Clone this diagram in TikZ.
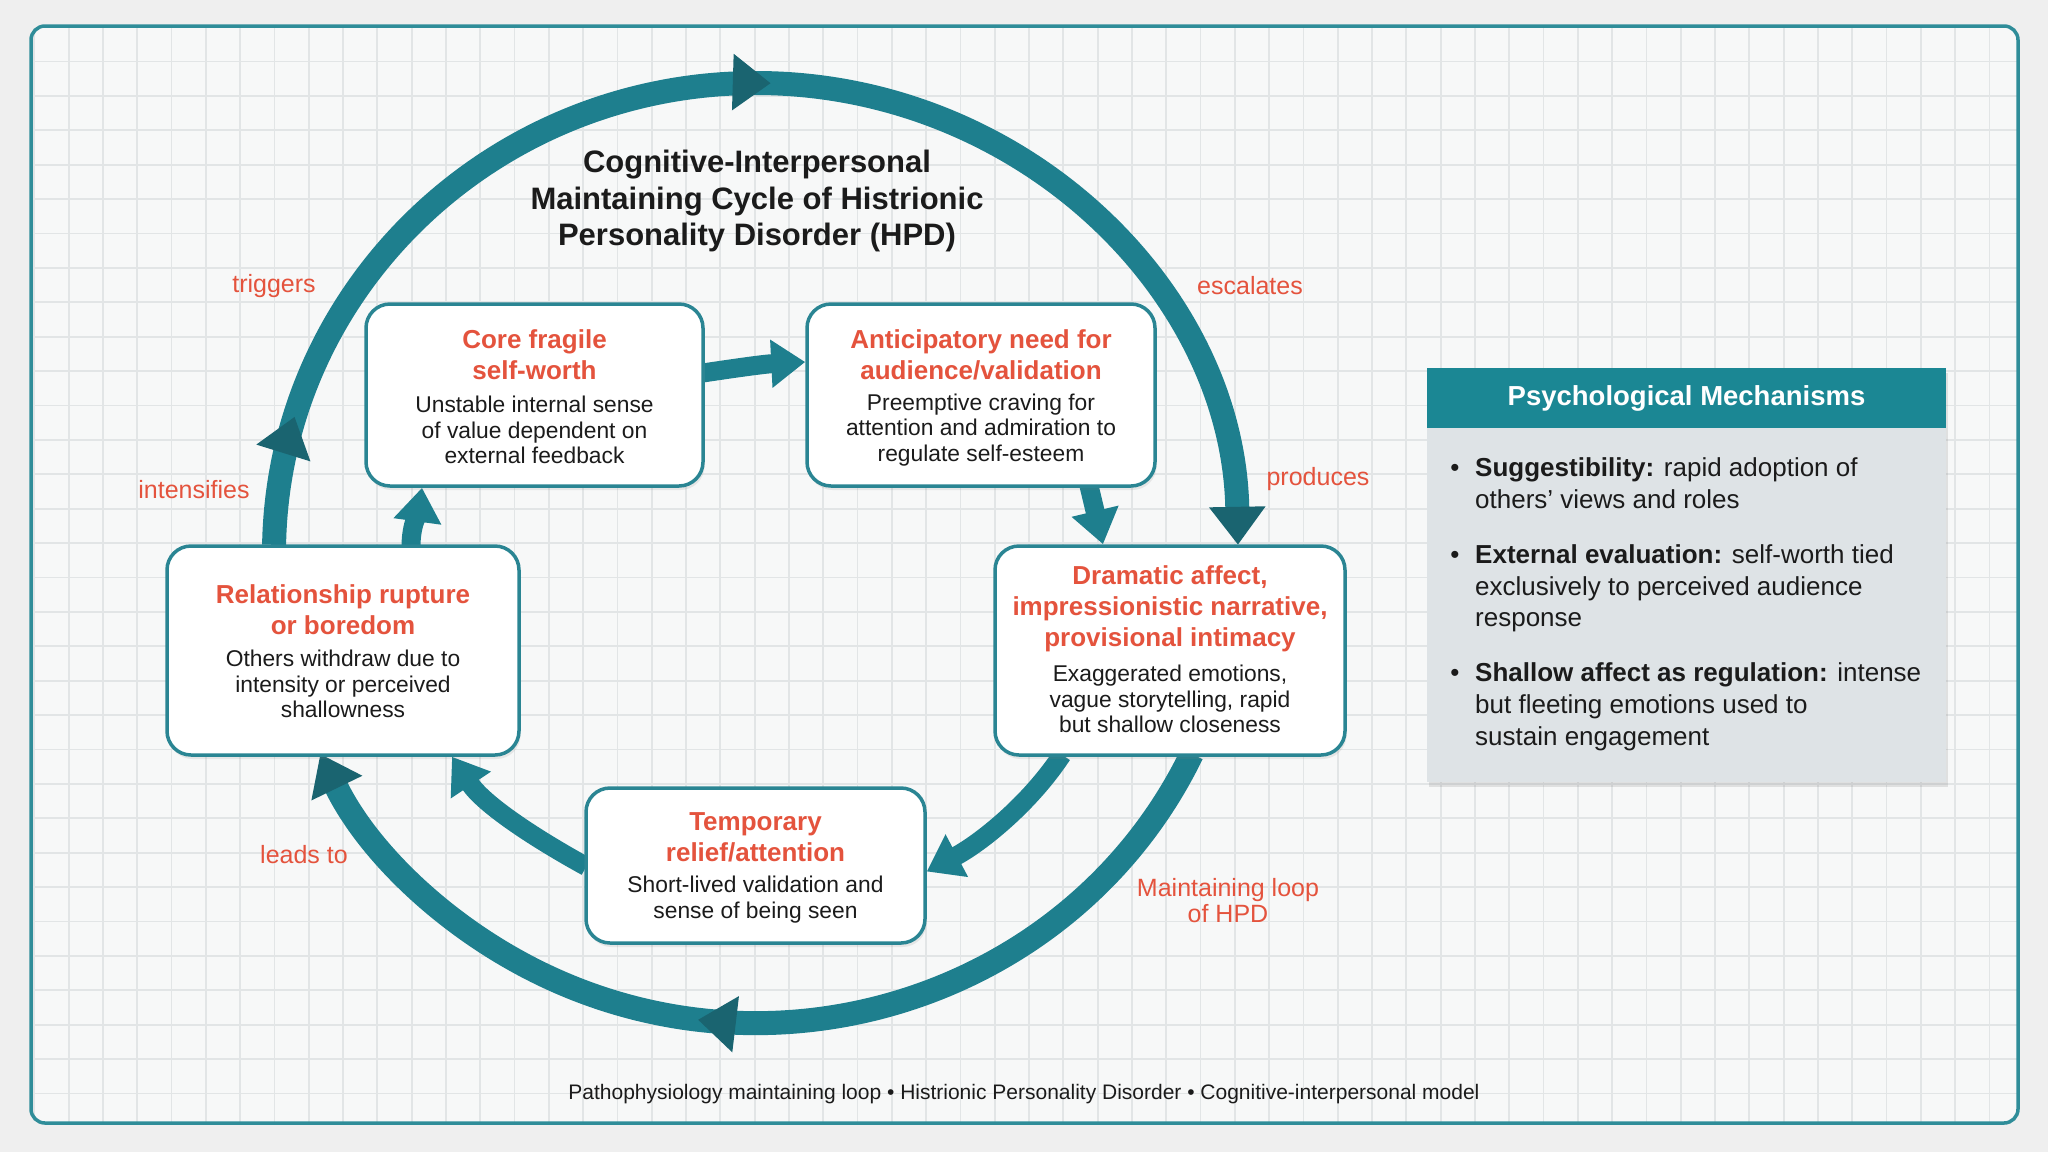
\documentclass[tikz,border=0pt]{standalone}
\usepackage{fontspec}
\setmainfont{Liberation Sans}
\usetikzlibrary{arrows.meta,decorations.markings,shadows,calc}
\pgfdeclarelayer{back}
\pgfdeclarelayer{links}
\pgfsetlayers{back,links,main}
\definecolor{bgout}{HTML}{EFEFEF}
\definecolor{bgin}{HTML}{F7F8F8}
\definecolor{gridc}{HTML}{E2E5E6}
\definecolor{tealA}{HTML}{1E7F8E}
\definecolor{tealB}{HTML}{1A6470}
\definecolor{boxline}{HTML}{2A8593}
\definecolor{frameline}{HTML}{2F8D99}
\definecolor{hred}{HTML}{E4533D}
\definecolor{txt}{HTML}{1B1B1B}
\definecolor{hdr}{HTML}{1B8794}
\definecolor{pbody}{HTML}{DEE3E6}
\begin{document}
\begin{tikzpicture}[x=1pt,y=-1pt,
  stage/.style={draw=boxline, line width=3.5pt, fill=white, rounded corners=24pt,
    inner sep=0pt,
    drop shadow={opacity=0.15, shadow xshift=1.5pt, shadow yshift=-4pt}},
  ttl/.style={text=hred, font=\fontsize{26}{31}\selectfont\bfseries, align=center, inner sep=0pt},
  bdy/.style={text=txt, font=\fontsize{22.8}{25.5}\selectfont, align=center, inner sep=0pt},
  outer/.style={draw=tealA, line width=24pt},
  inner/.style={draw=tealA, line width=19pt, -{Triangle[length=34pt,width=46pt]}},
  endtip/.style={-{Triangle[length=38pt,width=54pt,color=tealB]}},
  lbl/.style={text=hred, font=\fontsize{25}{26}\selectfont, align=center, inner sep=0pt},
  ptxt/.style={text=txt, font=\fontsize{26}{32}\selectfont, anchor=base west, inner sep=0pt},
]
\useasboundingbox (0,0) rectangle (2048,1152);

% boxes
\node[stage, minimum width=337pt, minimum height=182pt] (Core) at (534.5,395) {};
\node[stage, minimum width=348pt, minimum height=182pt] (Ant) at (981,395) {};
\node[stage, minimum width=352pt, minimum height=209pt] (Rel) at (343,650.5) {};
\node[stage, minimum width=350pt, minimum height=209pt] (Dram) at (1170,650.5) {};
\node[stage, minimum width=339pt, minimum height=155pt] (Temp) at (755.5,865.5) {};

% box texts
\node[ttl] (CoreT) at ($(Core)+(0,-40)$) {Core fragile\\self-worth};
\node[bdy] (CoreB) at ($(Core)+(0,35)$) {Unstable internal sense\\of value dependent on\\external feedback};
\node[ttl] (AntT) at ($(Ant)+(0,-40)$) {Anticipatory need for\\audience/validation};
\node[bdy] (AntB) at ($(Ant)+(0,35)$) {Preemptive craving for\\attention and admiration to\\regulate self-esteem};
\node[ttl] (RelT) at ($(Rel)+(0,-40.5)$) {Relationship rupture\\or boredom};
\node[bdy] (RelB) at ($(Rel)+(0,33.5)$) {Others withdraw due to\\intensity or perceived\\shallowness};
\node[ttl] (DramT) at ($(Dram)+(0,-42)$) {Dramatic affect,\\impressionistic narrative,\\provisional intimacy};
\node[bdy] (DramB) at ($(Dram)+(0,48.5)$) {Exaggerated emotions,\\vague storytelling, rapid\\but shallow closeness};
\node[ttl] (TempT) at ($(Temp)+(0,-28)$) {Temporary\\relief/attention};
\node[bdy] (TempB) at ($(Temp)+(0,34)$) {Short-lived validation and\\sense of being seen};

% frame and grid
\begin{pgfonlayer}{back}
\fill[bgout] (0,0) rectangle (2048,1152);
\fill[bgin, rounded corners=14pt] (31,26) rectangle (2018,1123);
\begin{scope}
  \clip[rounded corners=14pt] (31,26) rectangle (2018,1123);
  \foreach \i in {1,...,58} \draw[gridc, line width=1.8pt] (34.3*\i,26) -- (34.3*\i,1123);
  \foreach \j in {0,...,32} \draw[gridc, line width=1.8pt] (31,27+34.4*\j) -- (2018,27+34.4*\j);
\end{scope}
\draw[frameline, line width=3.5pt, rounded corners=14pt] (31,26) rectangle (2018,1123);
\end{pgfonlayer}

\begin{pgfonlayer}{links}
% outer cycle arcs
\coordinate (UA) at (274.1,544.8);
\coordinate (LA) at (1191.8,753.9);
\draw[outer, endtip,
  decoration={markings,
    mark=at position 0.088 with {\arrow{Triangle[length=38pt,width=54pt,color=tealB]}},
    mark=at position 0.51 with {\arrow{Triangle[length=38pt,width=54pt,color=tealB]}}},
  postaction={decorate}]
  (UA) arc[start angle=181, end angle=359, x radius=482, y radius=470];
\draw[outer, endtip,
  decoration={markings,
    mark=at position 0.554 with {\arrow{Triangle[length=38pt,width=54pt,color=tealB]}}},
  postaction={decorate}]
  (LA) arc[start angle=25.3, end angle=154.7, x radius=482, y radius=470];
% inner arrows
\draw[inner] ($(Core.east)+(-2,-22)$) .. controls +(40,-6) and +(-40,2) .. ($(Ant.west)+(0,-33)$);
\draw[inner] ($(Ant.south)+(108,-2)$) -- ($(Dram.north)+(-67,0)$);
\draw[inner] ($(Dram.south)+(-108,-2)$) .. controls +(-33,50) and +(53,-28) .. ($(Temp.east)+(0,6)$);
\draw[inner] ($(Temp.west)+(2,1)$) .. controls +(-51,-28) and +(32,48) .. ($(Rel.south)+(109,0)$);
\draw[inner] ($(Rel.north)+(68,2)$) .. controls +(0,-22) and +(-3,22) .. ($(Core.south)+(-112.5,0)$);
\end{pgfonlayer}

% title
\node[align=center, text=txt, font=\fontsize{31}{36.5}\selectfont\bfseries, inner sep=0pt] (Title) at (757,201)
  {Cognitive-Interpersonal\\Maintaining Cycle of Histrionic\\Personality Disorder (HPD)};

% labels
\node[lbl] (Ltrig) at (274,286) {triggers};
\node[lbl] (Lesc) at (1250,286) {escalates};
\node[lbl] (Lprod) at (1318,479) {produces};
\node[lbl] (Lint) at (194,490) {intensifies};
\node[lbl] (Llead) at (304,855) {leads to};
\node[lbl] (Lloop) at (1228,901) {Maintaining loop\\of HPD};

% panel
\node[draw=none, fill=pbody, minimum width=519pt, minimum height=414pt, inner sep=0pt,
  drop shadow={opacity=0.2, shadow xshift=2pt, shadow yshift=-5pt}] (Pan) at (1686.5,575) {};
\node[fill=hdr, minimum width=519pt, minimum height=60pt, inner sep=0pt, text=white,
  font=\fontsize{27.5}{30}\selectfont\bfseries] (PanH) at (1686.5,398) {Psychological Mechanisms};
\node[ptxt, anchor=base] (B1) at (1455,476) {•};
\node[ptxt] (P1a) at (1475,476) {\textbf{Suggestibility:} rapid adoption of};
\node[ptxt] (P1b) at (1475,508) {others' views and roles};
\node[ptxt, anchor=base] (B2) at (1455,563) {•};
\node[ptxt] (P2a) at (1475,563) {\textbf{External evaluation:} self-worth tied};
\node[ptxt] (P2b) at (1475,595) {exclusively to perceived audience};
\node[ptxt] (P2c) at (1475,626) {response};
\node[ptxt, anchor=base] (B3) at (1455,681) {•};
\node[ptxt] (P3a) at (1475,681) {\textbf{Shallow affect as regulation:} intense};
\node[ptxt] (P3b) at (1475,713) {but fleeting emotions used to};
\node[ptxt] (P3c) at (1475,745) {sustain engagement};

% footer
\node[text=txt, font=\fontsize{21}{24}\selectfont, inner sep=0pt] (Foot) at (1024,1094)
  {Pathophysiology maintaining loop • Histrionic Personality Disorder • Cognitive-interpersonal model};
\end{tikzpicture}
\end{document}
